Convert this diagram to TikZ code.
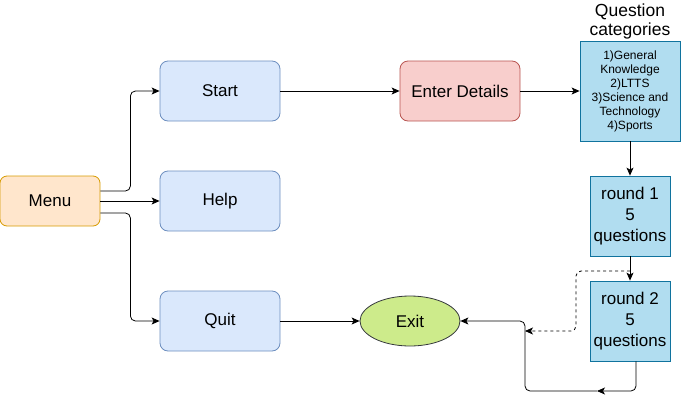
\documentclass[tikz,border=0pt]{standalone}
\usepackage{fontspec}
\setmainfont{Liberation Sans}
\usepackage{xcolor}
\usepackage{tikz}
\usetikzlibrary{arrows.meta}
\usetikzlibrary{shapes.geometric}

\definecolor{menufill}{HTML}{FFE6CC}
\definecolor{menudraw}{HTML}{D79B00}
\definecolor{bluefill}{HTML}{DAE8FC}
\definecolor{bluedraw}{HTML}{6C8EBF}
\definecolor{redfill}{HTML}{F8CECC}
\definecolor{reddraw}{HTML}{B85450}
\definecolor{cyanfill}{HTML}{B1DDF0}
\definecolor{cyandraw}{HTML}{10739E}
\definecolor{greenfill}{HTML}{CDEB8B}
\definecolor{greendraw}{HTML}{36393D}

\tikzset{
  box/.style={draw, line width=0.8pt, rounded corners=8pt, minimum width=120pt, minimum height=60pt,
    inner sep=0pt, font=\fontsize{17}{20}\selectfont},
  roundbox/.style={draw=cyandraw, fill=cyanfill, line width=0.8pt, minimum width=80pt, minimum height=80pt,
    inner sep=0pt, align=center, font=\fontsize{17}{21}\selectfont},
  link/.style={line width=0.8pt, rounded corners=5pt, -{Stealth[length=8pt,width=7pt,inset=2pt]}}
}

\begin{document}
\begin{tikzpicture}[x=1pt, y=-1pt]
    \useasboundingbox (0,0) rectangle (681,400);

    % menu and its three choices
    \node[box, fill=menufill, draw=menudraw, minimum width=100pt, minimum height=50pt, rounded corners=7pt] (menu) at (50,201) {Menu};
    \node[box, fill=bluefill, draw=bluedraw] (start) at (220,91) {Start};
    \node[box, fill=bluefill, draw=bluedraw] (help) at (220,201) {Help};
    \node[box, fill=bluefill, draw=bluedraw] (quit) at (220,321) {Quit};
    \node[box, fill=redfill, draw=reddraw] (details) at (460,91) {Enter Details};
    \node[ellipse, draw=greendraw, fill=greenfill, line width=0.8pt, minimum width=100pt, minimum height=50pt,
        inner sep=0pt, font=\fontsize{17}{20}\selectfont] (exit) at (410,321) {Exit};

    % question categories
    \node[align=center, font=\fontsize{17.5}{19}\selectfont] (cattitle) at (630,21) {Question\\categories};
    \node[draw=cyandraw, fill=cyanfill, line width=0.8pt, minimum width=100pt, minimum height=100pt, inner sep=0pt,
        align=center, font=\fontsize{12}{14}\selectfont] (categories) at (630,91)
        {1)General\\Knowledge\\2)LTTS\\3)Science and\\Technology\\4)Sports};
    \node[roundbox] (roundA) at (630,216) {round 1\\5\\questions};
    \node[roundbox] (roundB) at (630,321) {round 2\\5\\questions};

    \coordinate (dashfrom) at (630,271);
    \coordinate (dashto) at (525,331);
    \coordinate (loopmid) at (597,391);
    \coordinate (loopcorner) at (525,391);

    \draw[link] ([yshift=10pt]menu.east) -- ++(30,0) |- (start.west);
    \draw[link] (menu.east) -- (help.west);
    \draw[link] ([yshift=-12pt]menu.east) -- ++(30,0) |- (quit.west);
    \draw[link] (start.east) -- (details.west);
    \draw[link] (details.east) -- (categories.west);
    \draw[link] (quit.east) -- (exit.west);
    \draw[link] (categories.south) -- (roundA.north);
    \draw[link] (roundA.south) -- (roundB.north);
    \draw[link, dash pattern=on 3pt off 3pt] (dashfrom) -- ++(-54,0) |- (dashto);
    \draw[link] ([xshift=6pt]roundB.south) |- (loopmid);
    \draw[link] (loopmid) -- (loopcorner) |- (exit.east);
\end{tikzpicture}
\end{document}
